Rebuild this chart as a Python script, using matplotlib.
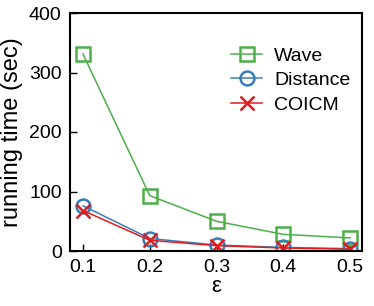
import matplotlib
matplotlib.use("Agg")
import matplotlib.pyplot as plt

eps = [0.1, 0.2, 0.3, 0.4, 0.5]
wave = [331, 93, 50, 28, 22]
distance = [76, 21, 10, 6, 4]
coicm = [68, 18, 9, 5, 3]

plt.rcParams["font.family"] = ["Liberation Sans", "DejaVu Sans"]

fig = plt.figure(figsize=(3.74, 3.06), dpi=100)
ax = fig.add_axes([70/374, 1-251/306, 292/374, 238/306])

ax.plot(eps, wave, color="#4daf4a", lw=1.1, marker="s", ms=10, mfc="none", mew=1.8, label="Wave")
ax.plot(eps, distance, color="#377eb8", lw=1.1, marker="o", ms=10, mfc="none", mew=1.8, label="Distance")
ax.plot(eps, coicm, color="#e41a1c", lw=1.1, marker="x", ms=10, mew=1.8, label="COICM")

ax.set_xlim(0.0805, 0.518)
ax.set_ylim(0, 400)
ax.set_xticks(eps)
ax.set_xticklabels(["0.1", "0.2", "0.3", "0.4", "0.5"])
ax.set_yticks([0, 100, 200, 300, 400])
ax.tick_params(direction="in", length=5, width=1, labelsize=14, pad=6)
for s in ax.spines.values():
    s.set_linewidth(1.5)
ax.set_xlabel("ε", fontsize=16, labelpad=0)
ax.set_ylabel("running time (sec)", fontsize=17, labelpad=4)
ax.legend(loc="upper right", frameon=False, fontsize=14, handlelength=1.6,
          handletextpad=0.6, labelspacing=0.35, bbox_to_anchor=(1.02, 0.93))

fig.savefig("out.png", dpi=100)
